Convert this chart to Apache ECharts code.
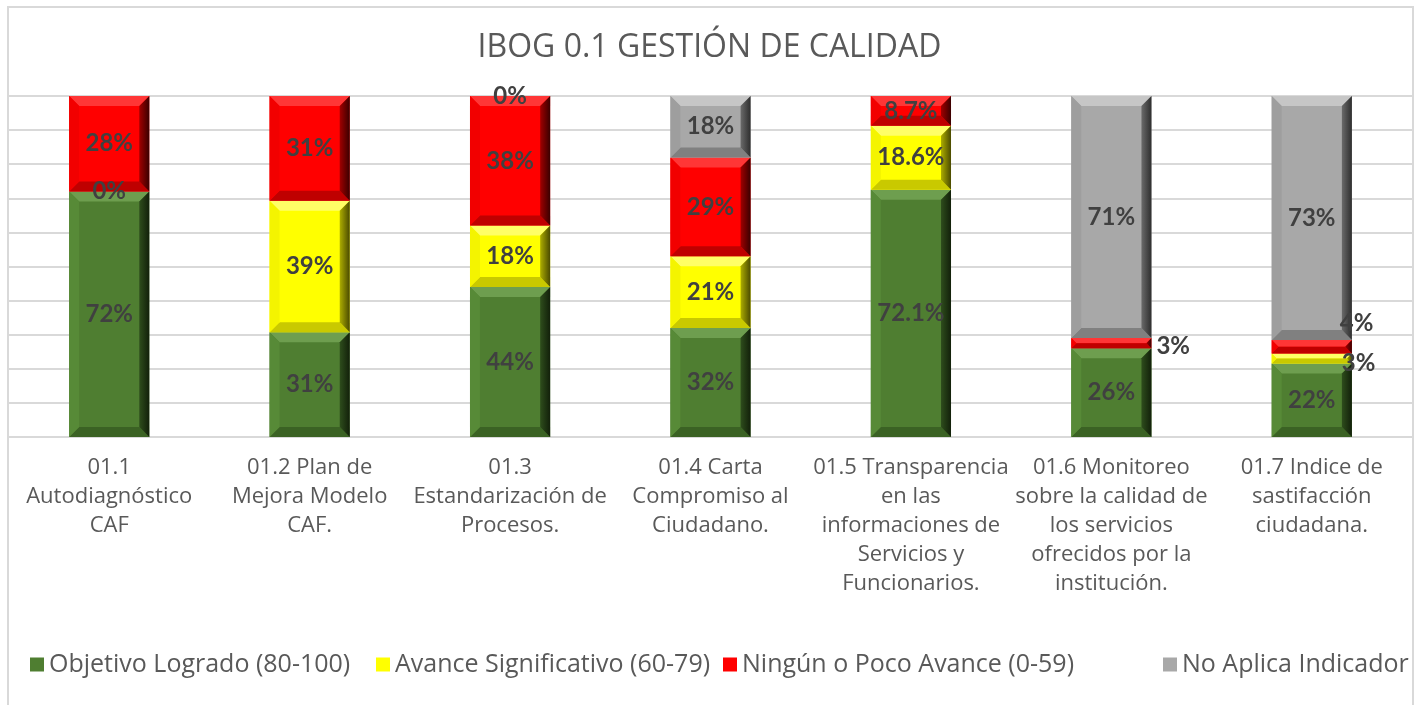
<!DOCTYPE html>
<html>
<head>
<meta charset="utf-8">
<script src="https://cdn.jsdelivr.net/npm/echarts@6/dist/echarts.min.js"></script>
<style>
html,body{margin:0;padding:0;background:#fff;}
#chart{width:1419px;height:705px;}
</style>
</head>
<body>
<div id="chart"></div>
<script>
const categories = [
  '01.1\nAutodiagnóstico\nCAF',
  '01.2 Plan de\nMejora Modelo\nCAF.',
  '01.3\nEstandarización de\nProcesos.',
  '01.4 Carta\nCompromiso al\nCiudadano.',
  '01.5 Transparencia\nen las\ninformaciones de\nServicios y\nFuncionarios.',
  '01.6 Monitoreo\nsobre la calidad de\nlos servicios\nofrecidos por la\ninstitución.',
  '01.7 Indice de\nsastifacción\nciudadana.'
];
const seriesNames = ['Objetivo Logrado (80-100)', 'Avance Significativo (60-79)', 'Ningún o Poco Avance (0-59)', 'No Aplica Indicador'];
const logrado  = [72, 31, 44, 32, 72.1, 26, 22];
const avance   = [0, 39, 18, 21, 18.6, null, 3];
const ninguno  = [28, 31, 38, 29, 8.7, 3, 4];
const noAplica = [null, null, 0, 18, null, 71, 73];
const title = 'IBOG 0.1 GESTIÓN DE CALIDAD';

const allSeries = [logrado, avance, ninguno, noAplica];

// bevel palettes
const palettes = [
  {base:'#4f7e31', light:'#6e9e4f', bottom:'#3b6224', left:'#578a37', r1:'#2e4d1c', r2:'#12200a'},
  {base:'#ffff00', light:'#ffff66', bottom:'#c9c900', left:'#f4f400', r1:'#adad00', r2:'#4a4a00'},
  {base:'#ff0000', light:'#ff3636', bottom:'#bf0000', left:'#f20000', r1:'#a00000', r2:'#3a0000'},
  {base:'#a8a8a8', light:'#c6c6c6', bottom:'#808080', left:'#9e9e9e', r1:'#6a6a6a', r2:'#2e2e2e'}
];
const legendLefts = [25, 371, 718, 1158];

// label placement overrides: [seriesIndex, dataIndex] -> offsets from right edge
const labelOverrides = {
  '2-5': {dx: 5, dy: 3},
  '2-6': {dx: -12, dy: -23},
  '1-6': {dx: -10, dy: 5}
};

// Build 100%-stacked extents
const totals = categories.map((c, i) => allSeries.reduce((s, arr) => s + (arr[i] == null ? 0 : arr[i]), 0));
const cum = categories.map(() => 0);
const seriesData = allSeries.map(arr => {
  const out = [];
  arr.forEach((v, i) => {
    if (v == null) return;
    const pct = v / totals[i] * 100;
    const lo = cum[i];
    const hi = lo + pct;
    cum[i] = hi;
    out.push([i, lo, hi, v]);
  });
  return out;
});

function makeRender(si) {
  const pal = palettes[si];
  return function (params, api) {
    const ci = api.value(0);
    const lo = api.value(1), hi = api.value(2), raw = api.value(3);
    const pLo = api.coord([ci, lo]);
    const pHi = api.coord([ci, hi]);
    const bw = api.size([1, 0])[0] * 0.4;
    const x = pLo[0] - bw / 2, w = bw;
    const y = pHi[1], h = pLo[1] - pHi[1];
    const children = [];
    if (h > 0.2) {
      const b = Math.min(10, h / 2, w / 2);
      children.push({type:'rect', shape:{x:x, y:y, width:w, height:h}, style:{fill:pal.base}});
      children.push({type:'polygon', shape:{points:[[x,y],[x+w,y],[x+w-b,y+b],[x+b,y+b]]}, style:{fill:pal.light}});
      children.push({type:'polygon', shape:{points:[[x,y+h],[x+w,y+h],[x+w-b,y+h-b],[x+b,y+h-b]]}, style:{fill:pal.bottom}});
      children.push({type:'polygon', shape:{points:[[x,y],[x+b,y+b],[x+b,y+h-b],[x,y+h]]}, style:{fill:pal.left}});
      children.push({type:'polygon', shape:{points:[[x+w,y],[x+w-b,y+b],[x+w-b,y+h-b],[x+w,y+h]]},
        style:{fill:new echarts.graphic.LinearGradient(0,0,1,0,[{offset:0,color:pal.r1},{offset:1,color:pal.r2}])}});
    }
    const ov = labelOverrides[si + '-' + ci];
    let tx = x + w / 2, ty = y + h / 2, align = 'center';
    if (ov) { tx = x + w + ov.dx; ty = ty + ov.dy; align = 'left'; }
    children.push({type:'text', z2:100, style:{
      text: raw + '%', x: tx, y: ty, align: align, verticalAlign: 'middle',
      fill:'#404040', fontSize: 24, fontWeight:'bold', fontFamily:'Lato'
    }});
    return {type:'group', children: children};
  };
}

const chart = echarts.init(document.getElementById('chart'), null, {renderer:'canvas'});
chart.setOption({
  backgroundColor:'#ffffff',
  animation:false,
  title:{text:title, left:'center', top:27, textStyle:{fontSize:32, fontWeight:'normal', color:'#595959', fontFamily:'Open Sans'}},
  grid:{left:9, right:7, top:96, bottom:268, containLabel:false},
  legend: seriesNames.map((n, i) => ({
    data:[n], left:legendLefts[i], top:647, itemWidth:14, itemHeight:14, icon:'rect',
    textStyle:{fontSize:25, color:'#595959', fontFamily:'Open Sans'}
  })),
  xAxis:{type:'category', data:categories,
    axisLine:{lineStyle:{color:'#d9d9d9', width:2}}, axisTick:{show:false},
    axisLabel:{interval:0, fontSize:22, lineHeight:29, color:'#595959', fontFamily:'Open Sans', margin:16}},
  yAxis:{type:'value', min:0, max:100, interval:10, axisLabel:{show:false}, axisLine:{show:false}, axisTick:{show:false},
    splitLine:{lineStyle:{color:'#d9d9d9', width:2}}},
  graphic:[{type:'rect', shape:{x:8, y:7, width:1405, height:720}, style:{fill:null, stroke:'#d9d9d9', lineWidth:2}, silent:true, z:-1}],
  series: seriesNames.map((n, si) => ({
    name:n, type:'custom', renderItem:makeRender(si),
    itemStyle:{color:palettes[si].base},
    encode:{x:0, y:[1,2]},
    data: seriesData[si]
  }))
});
</script>
</body>
</html>
